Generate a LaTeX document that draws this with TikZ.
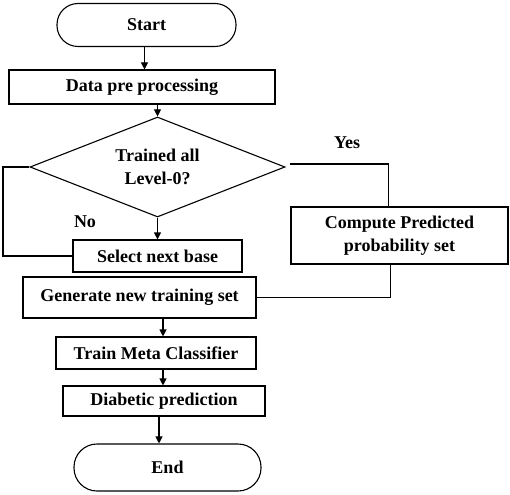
\documentclass[tikz,border=0pt]{standalone}
\usepackage{fontspec}
\setmainfont{Liberation Serif}
\usetikzlibrary{shapes.geometric,arrows.meta,positioning}
\begin{document}
\begin{tikzpicture}[x=1pt,y=-1pt,
  every node/.style={font=\fontsize{18}{22.5}\selectfont\bfseries},
  box/.style={draw,line width=1.1pt,inner sep=0pt,align=center},
  term/.style={box,rounded corners=21pt},
  dec/.style={draw,line width=1.1pt,diamond,inner sep=0pt,aspect=2.55,minimum width=255pt,minimum height=100pt,align=center},
  line/.style={line width=1.1pt},
  arr/.style={line,-{Triangle[length=7pt,width=7pt]}},
  lbl/.style={inner sep=0pt}]
\useasboundingbox (0,0) rectangle (510,494);
\node[term,minimum width=179pt,minimum height=43pt] (start) at (146.5,25) {Start};
\node[box,minimum width=266pt,minimum height=34pt] (dp) at (142,87) {Data pre processing};
\node[dec] (d) at (157.5,167) {Trained all\\Level-0?};
\node[box,minimum width=169pt,minimum height=32pt] (sel) at (157.5,256) {Select next base};
\node[box,minimum width=217pt,minimum height=57pt] (comp) at (399.5,235.5) {Compute Predicted\\probability set};
\node[box,minimum width=233pt,minimum height=41pt] (gen) at (139.5,297.5) {Generate new training set};
\node[box,minimum width=200pt,minimum height=32pt] (train) at (156,353) {Train Meta Classifier};
\node[box,minimum width=202pt,minimum height=30pt] (diab) at (164,401) {Diabetic prediction};
\node[term,minimum width=187pt,minimum height=47pt,rounded corners=23pt] (end) at (167.5,467.5) {End};
\node[lbl] (yes) at (347,143) {Yes};
\node[lbl] (no) at (85,222) {No};
\coordinate (nl) at (3,167);
\draw[arr] ([xshift=-2pt]start.south) -- ([xshift=-2pt]start.south |- dp.north);
\draw[arr] (d.north |- dp.south) -- (d.north);
\draw[arr] (d.south) -- (d.south |- sel.north);
\draw[line] (d.west) -- (nl) |- (sel.west);
\draw[line] ([xshift=4pt,yshift=3pt]d.east) -| ([xshift=-11pt]comp.north);
\draw[line] ([xshift=-9pt]comp.south) |- (gen.east);
\draw[arr] ([xshift=7pt]train.north |- gen.south) -- ([xshift=7pt]train.north);
\draw[arr] ([xshift=-1pt]diab.north |- train.south) -- ([xshift=-1pt]diab.north);
\draw[arr] ([xshift=-5pt]diab.south) -- ([xshift=-5pt]diab.south |- end.north);
\end{tikzpicture}
\end{document}
